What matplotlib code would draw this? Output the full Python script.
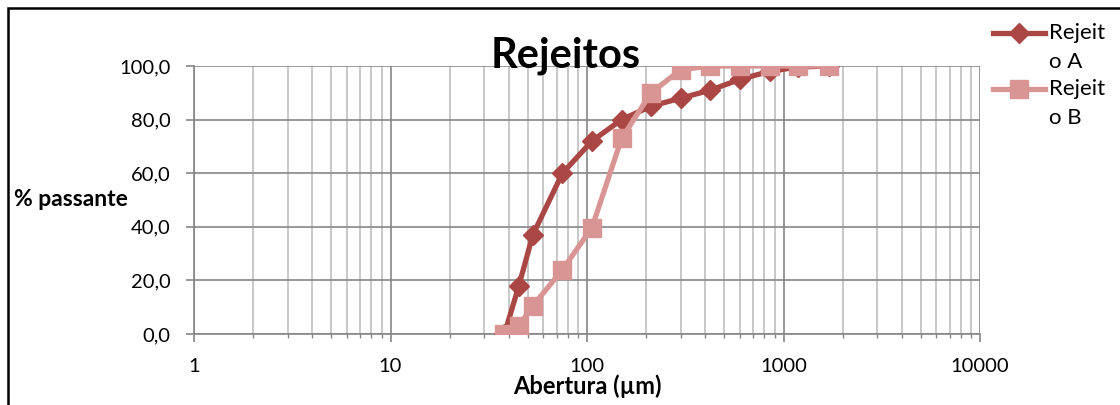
import matplotlib
matplotlib.use("Agg")
import matplotlib.pyplot as plt
from matplotlib.lines import Line2D
from matplotlib.patches import Rectangle
from matplotlib.ticker import FixedLocator, FuncFormatter, LogLocator, NullFormatter

plt.rcParams['font.family'] = ['Lato', 'DejaVu Sans']

# aberturas das peneiras (µm)
abertura = [38, 45, 53, 75, 106, 150, 212, 300, 425, 600, 850, 1180, 1700]
rejeito_a = [0.0, 18.0, 37.0, 60.0, 72.0, 80.0, 85.0, 88.0, 91.0, 95.0, 98.0, 99.6, 100.0]
rejeito_b = [0.0, 3.0, 10.5, 24.0, 39.7, 73.0, 90.0, 98.6, 100.0, 100.0, 100.0, 100.0, 100.0]
y_ticks = [0, 20, 40, 60, 80, 100]
x_ticks = [1, 10, 100, 1000, 10000]

cor_a = '#AA4643'
cor_b = '#D99594'

fig = plt.figure(figsize=(11.2, 4.05), dpi=100)
ax = fig.add_axes([194 / 1120, 71 / 405, 786 / 1120, 268 / 405])

ax.plot(abertura, rejeito_a, color=cor_a, lw=3.8, marker='D', ms=10, zorder=3)
ax.plot(abertura, rejeito_b, color=cor_b, lw=3.8, marker='s', ms=12.5, zorder=4)

ax.set_xscale('log')
ax.set_xlim(1, 10000)
ax.set_ylim(0, 100)
ax.xaxis.set_major_locator(FixedLocator(x_ticks))
ax.xaxis.set_major_formatter(FuncFormatter(lambda v, p: f'{v:.0f}'))
ax.xaxis.set_minor_locator(LogLocator(base=10, subs=range(2, 10)))
ax.xaxis.set_minor_formatter(NullFormatter())
ax.yaxis.set_major_locator(FixedLocator(y_ticks))
ax.yaxis.set_major_formatter(FuncFormatter(lambda v, p: f'{v:.1f}'.replace('.', ',')))

ax.grid(True, which='major', color='#868686', lw=1.2)
ax.grid(True, which='minor', axis='x', color='#BFBFBF', lw=1.2)
ax.set_axisbelow(True)

for s in ['top', 'right']:
    ax.spines[s].set_visible(False)
for s in ['left', 'bottom']:
    ax.spines[s].set_color('#868686')
    ax.spines[s].set_linewidth(1.2)

ax.tick_params(axis='both', which='major', direction='out', length=6, width=1.2,
               color='#868686', labelsize=14.5, pad=11)
ax.tick_params(axis='x', which='minor', direction='out', length=3, width=1,
               color='#868686')

fig.text(566 / 1120, 1 - 56 / 405, 'Rejeitos', ha='center', va='center',
         fontsize=30, fontweight='bold')
fig.text(14 / 1120, 1 - 200 / 405, '% passante', ha='left', va='center',
         fontsize=16.5, fontweight='bold')
fig.text(587 / 1120, 1 - 386 / 405, 'Abertura (µm)', ha='center', va='center',
         fontsize=17, fontweight='bold')

# legenda manual
fig.add_artist(Line2D([993 / 1120, 1045 / 1120], [1 - 33 / 405] * 2, color=cor_a,
                      lw=3.8, transform=fig.transFigure))
fig.add_artist(Line2D([1019 / 1120], [1 - 33 / 405], color=cor_a, marker='D', ms=10,
                      transform=fig.transFigure))
fig.add_artist(Line2D([993 / 1120, 1045 / 1120], [1 - 89 / 405] * 2, color=cor_b,
                      lw=3.8, transform=fig.transFigure))
fig.add_artist(Line2D([1019 / 1120], [1 - 89 / 405], color=cor_b, marker='s', ms=12.5,
                      transform=fig.transFigure))
for txt, yp in [('Rejeit', 33), ('o A', 62), ('Rejeit', 89), ('o B', 118)]:
    fig.text(1049 / 1120, 1 - yp / 405, txt, ha='left', va='center', fontsize=16)

# moldura do gráfico
fig.add_artist(Rectangle((8 / 1120, -0.2), 1.2, 1.2 - 8 / 405, fill=False,
                         edgecolor='black', lw=1.8, transform=fig.transFigure,
                         clip_on=False))

fig.savefig('out.png', dpi=100)
